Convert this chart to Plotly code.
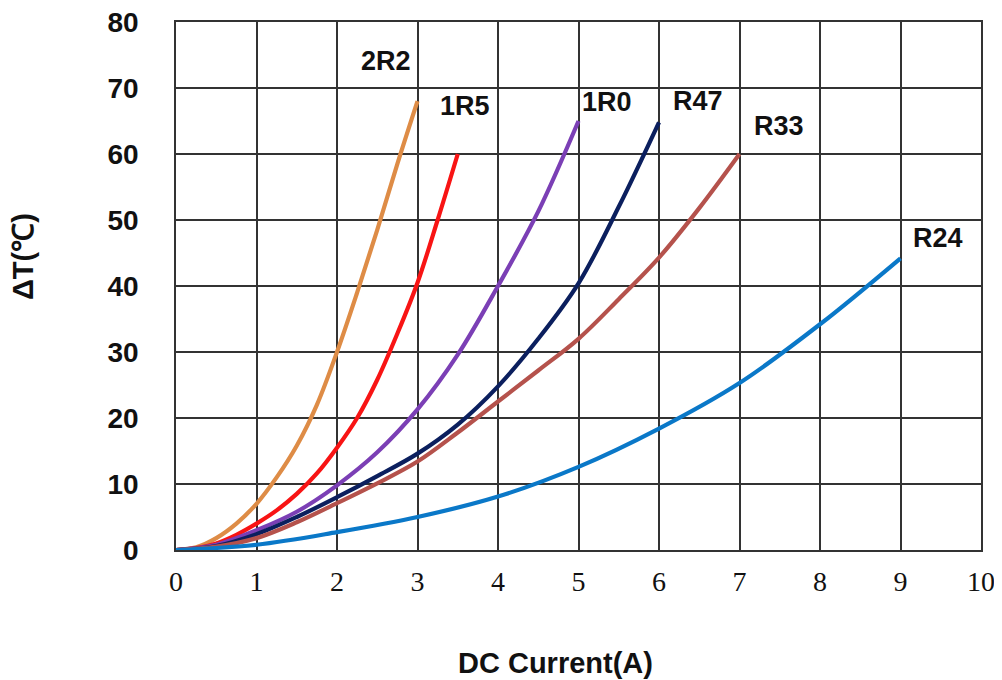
import plotly.graph_objects as go

# ---- data ----
series_names = ["2R2", "1R5", "1R0", "R47", "R33", "R24"]

current_2R2 = [0, 0.25, 0.5, 0.75, 1, 1.25, 1.5, 1.75, 2, 2.25, 2.5, 2.75, 3]
temp_2R2 = [0, 0.4, 1.8, 4.0, 7.0, 11.0, 15.8, 22.0, 30, 39, 48.5, 58.5, 68]

current_1R5 = [0, 0.25, 0.5, 0.75, 1, 1.25, 1.5, 1.75, 2, 2.25, 2.5, 2.75, 3, 3.25, 3.5]
temp_1R5 = [0, 0.3, 1.0, 2.3, 4.0, 6.0, 8.5, 11.6, 15.5, 20, 25.8, 32.8, 40.5, 50, 60]

current_1R0 = [0, 0.5, 1, 1.5, 2, 2.5, 3, 3.5, 4, 4.5, 5]
temp_1R0 = [0, 0.8, 3.0, 5.8, 9.8, 14.8, 21.3, 29.6, 40, 51.3, 65]

current_R47 = [0, 0.5, 1, 1.5, 2, 2.5, 3, 3.5, 4, 4.5, 5, 5.5, 6]
temp_R47 = [0, 0.6, 2.4, 5.0, 8.0, 11.2, 14.6, 19.0, 24.8, 32.0, 40.4, 52.0, 64.8]

current_R33 = [0, 0.5, 1, 1.5, 2, 2.5, 3, 3.5, 4, 4.5, 5, 5.5, 6, 6.5, 7]
temp_R33 = [0, 0.5, 1.8, 4.2, 7.1, 10.1, 13.4, 17.8, 22.5, 27.2, 32.0, 38.0, 44.3, 51.8, 60]

current_R24 = [0, 1, 2, 3, 4, 5, 6, 7, 8, 9]
temp_R24 = [0, 0.8, 2.7, 5.0, 8.1, 12.6, 18.4, 25.3, 34.2, 44.2]

x_ticks = [0, 1, 2, 3, 4, 5, 6, 7, 8, 9, 10]
y_ticks = [0, 10, 20, 30, 40, 50, 60, 70, 80]

x_title = "DC Current(A)"
y_title = "ΔT(℃)"

# label anchor positions (data coordinates)
label_x = [2.61, 3.59, 5.35, 6.49, 7.49, 9.46]
label_y = [74.1, 67.3, 67.9, 68.0, 64.2, 47.3]

colors = ["#DE8C46", "#F81414", "#7B3FB5", "#0B1F5E", "#B5524C", "#0A78C8"]

xs = [current_2R2, current_1R5, current_1R0, current_R47, current_R33, current_R24]
ys = [temp_2R2, temp_1R5, temp_1R0, temp_R47, temp_R33, temp_R24]

fig = go.Figure()
for name, x, y, c in zip(series_names, xs, ys, colors):
    fig.add_trace(go.Scatter(
        x=x, y=y, mode="lines", name=name,
        line=dict(color=c, width=4.2, shape="spline", smoothing=1.0),
        showlegend=False,
    ))

for name, lx, ly in zip(series_names, label_x, label_y):
    fig.add_annotation(
        x=lx, y=ly, text="<b>%s</b>" % name, showarrow=False,
        font=dict(family="Liberation Sans, Arial", size=27, color="#111111"),
        xanchor="center", yanchor="middle",
    )

# axis titles
fig.add_annotation(
    xref="paper", yref="paper", x=0.471, y=-0.214,
    text="<b>%s</b>" % x_title, showarrow=False,
    font=dict(family="Liberation Sans, Arial", size=29, color="#111111"),
    xanchor="center", yanchor="middle",
)
fig.add_annotation(
    xref="paper", yref="paper", x=-0.19, y=0.555,
    text="<b>%s</b>" % y_title, showarrow=False, textangle=-90,
    font=dict(family="Liberation Sans, Arial", size=29, color="#111111"),
    xanchor="center", yanchor="middle",
)

# page body has an 8px margin, so the figure is shrunk and margins offset
fig.update_layout(
    width=994, height=672,
    margin=dict(l=168, r=21, t=14, b=130),
    paper_bgcolor="white", plot_bgcolor="white",
    font=dict(family="Liberation Sans, Arial", color="#111111"),
)

fig.update_xaxes(
    range=[0, 10], tickvals=x_ticks, ticktext=[str(v) for v in x_ticks],
    showgrid=True, gridcolor="#333333", gridwidth=1.5,
    showline=True, linecolor="#333333", linewidth=1.5, mirror=True,
    zeroline=False, ticks="", ticklabelstandoff=6, ticklabeloverflow="allow",
    tickfont=dict(family="Liberation Serif, Times New Roman, serif", size=28, color="#111111"),
    automargin=False,
)
fig.update_yaxes(
    range=[0, 80], tickvals=y_ticks, ticktext=["<b>%d</b>" % v for v in y_ticks],
    showgrid=True, gridcolor="#333333", gridwidth=1.5,
    showline=True, linecolor="#333333", linewidth=1.5, mirror=True,
    zeroline=False, ticks="", ticklabelstandoff=30, ticklabeloverflow="allow",
    tickfont=dict(family="Liberation Sans, Arial", size=28, color="#111111"),
    automargin=False,
)

fig.write_html("out.html")
